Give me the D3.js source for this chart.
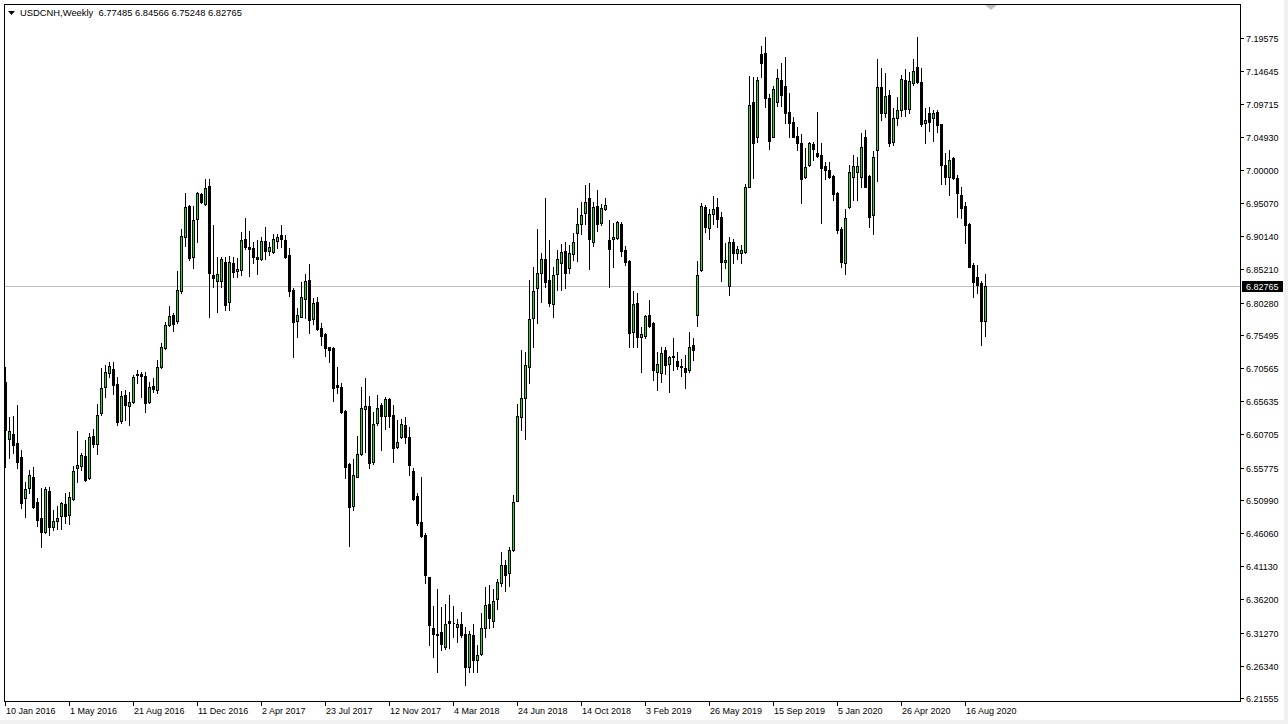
<!DOCTYPE html>
<html><head><meta charset="utf-8">
<script src="https://cdn.jsdelivr.net/npm/d3@7"></script>
<style>
html,body{margin:0;padding:0;background:#fff;overflow:hidden;}
svg{display:block;}
text{font-family:"Liberation Sans",Arial,sans-serif;font-size:9px;fill:#000;}
</style></head><body>
<svg id="c" width="1288" height="724"></svg>
<script>
const symbolTitle = "USDCNH,Weekly";
const lastQuote = ["6.77485", "6.84566", "6.75248", "6.82765"];
const currentPrice = 6.82765;

const opens = [6.6853,6.5998,6.6076,6.5938,6.5739,6.5121,6.5270,6.5442,6.5066,6.4824,
6.4616,6.5230,6.4691,6.4789,6.4863,6.5037,6.4869,6.5106,6.5567,6.5606,
6.5750,6.5418,6.6047,6.5923,6.6384,6.6770,6.6987,6.7042,6.6819,6.6269,
6.6651,6.6497,6.6547,6.6967,6.6967,6.6938,6.6547,6.6789,6.6730,6.7076,
6.7349,6.7695,6.7839,6.7759,6.8199,6.9007,6.9463,6.8710,6.9265,6.9641,
6.9492,6.9760,6.8438,6.8353,6.8353,6.8631,6.8041,6.8612,6.8502,6.8508,
6.8968,6.8858,6.8834,6.8710,6.8676,6.8947,6.8799,6.8784,6.8947,6.9028,
6.8958,6.8735,6.8215,6.7759,6.7818,6.8077,6.8363,6.7784,6.8037,6.7655,
6.7561,6.7373,6.7349,6.6804,6.6779,6.6422,6.5631,6.5007,6.5442,6.5779,
6.6452,6.6492,6.5661,6.6235,6.6507,6.6344,6.6592,6.6358,6.5879,6.6027,
6.6210,6.6027,6.5531,6.5156,6.4774,6.4576,6.3957,6.3191,6.3106,6.3140,
6.2917,6.3303,6.3274,6.3215,6.3254,6.3106,6.2620,6.3087,6.2720,6.2809,
6.3191,6.3551,6.3303,6.3621,6.3859,6.4131,6.4008,6.4354,6.5086,6.6324,
6.6606,6.7067,6.7795,6.8240,6.8463,6.8671,6.8363,6.8003,6.8453,6.8620,
6.8799,6.8537,6.8750,6.9057,6.9195,6.9354,6.9577,6.8928,6.9463,6.9206,
6.9414,6.8958,6.8968,6.8983,6.9195,6.8809,6.8650,6.7596,6.8017,6.7522,
6.7532,6.7839,6.7720,6.7002,6.6987,6.7324,6.7112,6.7216,6.7161,6.7086,
6.7052,6.7027,6.7398,6.7844,6.8512,6.9443,6.9132,6.9344,6.9443,6.9295,
6.8626,6.8275,6.8932,6.8760,6.8760,6.8784,6.9749,7.1012,7.0483,7.1720,
7.1739,7.1062,7.0492,7.1012,7.1340,7.1249,7.0863,7.0715,7.0502,7.0403,
6.9889,7.0071,7.0384,7.0254,7.0220,7.0057,6.9997,6.9908,6.9660,6.9116,
6.8612,6.9443,6.9898,6.9972,6.9889,7.0483,6.9908,6.9329,7.0294,7.1225,
7.0848,7.1111,7.0418,7.0765,7.0888,7.1334,7.0899,7.1285,7.1523,7.1309,
7.0699,7.0839,7.0765,7.0863,7.0680,7.0071,6.9898,7.0180,6.9874,6.9626,
6.9463,6.9195,6.8586,6.8412,6.8314,6.77485];

const highs = [6.7076,6.6333,6.6344,6.6507,6.5839,6.5368,6.5542,6.5591,6.5121,6.5274,
6.5294,6.5294,6.4947,6.5007,6.5071,6.5200,6.5219,6.5601,6.6121,6.5798,
6.5987,6.6096,6.6146,6.6522,6.7061,6.7101,6.7150,6.7150,6.6927,6.6715,
6.6730,6.6700,6.6953,6.7027,6.7002,6.7002,6.6853,6.6904,6.7175,6.7423,
6.7744,6.7977,6.7869,6.8497,6.9116,6.9660,6.9482,6.9463,6.9675,6.9660,
6.9859,6.9859,6.9180,6.8701,6.8701,6.8701,6.8720,6.8701,6.8686,6.9077,
6.9284,6.9091,6.8932,6.8958,6.8998,6.9146,6.8932,6.9047,6.9047,6.9180,
6.9032,6.8834,6.8240,6.7943,6.8338,6.8448,6.8601,6.8092,6.8107,6.7720,
6.7581,6.7373,6.7373,6.7076,6.6829,6.6433,6.5650,6.5701,6.6047,6.6779,
6.6904,6.6641,6.6407,6.6656,6.6541,6.6630,6.6606,6.6507,6.6284,6.6295,
6.6324,6.6176,6.5567,6.5196,6.5442,6.4601,6.3957,6.3522,6.3770,6.3511,
6.3551,6.3685,6.3522,6.3324,6.3437,6.3215,6.3155,6.3254,6.2943,6.3413,
6.3800,6.3834,6.3770,6.3918,6.4328,6.4205,6.4403,6.5170,6.6522,6.7324,
6.7299,6.8363,6.8552,6.9116,6.8760,6.9577,6.8958,6.8552,6.8809,6.8898,
6.8932,6.8884,6.9057,6.9428,6.9526,6.9775,6.9800,6.9526,6.9700,6.9492,
6.9577,6.9255,6.9206,6.9244,6.9229,6.8868,6.8661,6.8199,6.8175,6.7670,
6.7844,6.8066,6.7744,6.7299,6.7364,6.7364,6.7235,6.7498,6.7299,6.7186,
6.7250,6.7596,6.7502,6.8650,6.9503,6.9475,6.9414,6.9611,6.9577,6.9380,
6.8909,6.9007,6.8968,6.8868,6.8884,6.9789,7.1393,7.1383,7.1383,7.1839,
7.1968,7.1126,7.1249,7.1493,7.1591,7.1680,7.1137,7.0790,7.0632,7.0532,
7.0320,7.0418,7.0418,7.0863,7.0394,7.0120,7.0120,6.9923,6.9675,6.9146,
6.9414,7.0071,7.0220,7.0195,7.0551,7.0591,6.9923,7.0284,7.1641,7.1508,
7.1433,7.1185,7.0914,7.1086,7.1408,7.1493,7.1457,7.1641,7.1968,7.1508,
7.0914,7.0928,7.0888,7.0888,7.0680,7.0245,7.0294,7.0195,6.9923,6.9749,
6.9526,6.9206,6.8612,6.8586,6.8353,6.84566];

const lows = [6.5591,6.5715,6.5794,6.5567,6.4973,6.4848,6.5196,6.4973,6.4710,6.4394,
6.4601,6.4576,6.4650,6.4661,6.4661,6.4759,6.4735,6.5096,6.5368,6.5542,
6.5383,6.5403,6.5888,6.5775,6.6358,6.6630,6.6918,6.6670,6.6210,6.6240,
6.6284,6.6210,6.6532,6.6829,6.6630,6.6407,6.6532,6.6705,6.6690,6.7052,
6.7334,6.7680,6.7610,6.7729,6.8175,6.8868,6.8661,6.8537,6.8932,6.9512,
6.9475,6.7810,6.8264,6.7893,6.8264,6.7918,6.7918,6.8404,6.8413,6.8438,
6.8831,6.8423,6.8612,6.8453,6.8661,6.8671,6.8735,6.8760,6.8834,6.8858,
6.8686,6.8126,6.7225,6.7522,6.7810,6.7795,6.7581,6.7710,6.7621,6.7398,
6.7235,6.7150,6.6571,6.6690,6.6393,6.5418,6.4413,6.4947,6.5433,6.5764,
6.5813,6.5567,6.5633,6.6210,6.5839,6.6146,6.6185,6.5665,6.5864,6.6012,
6.5938,6.5468,6.5096,6.4725,6.4551,6.3868,6.2943,6.2760,6.2546,6.2868,
6.2879,6.2893,6.3057,6.2992,6.3066,6.2349,6.2546,6.2546,6.2546,6.2794,
6.3057,6.3191,6.3215,6.3473,6.3819,6.3749,6.3819,6.4343,6.5086,6.6136,
6.5998,6.6829,6.7373,6.7729,6.8041,6.8264,6.7977,6.7810,6.8215,6.8215,
6.8240,6.8463,6.8661,6.8650,6.9047,6.9195,6.8522,6.8868,6.9098,6.9180,
6.9403,6.8255,6.8561,6.8968,6.8720,6.8586,6.7373,6.7373,6.7364,6.7002,
6.7498,6.7670,6.6878,6.6730,6.6853,6.6967,6.6705,6.7027,6.7037,6.6938,
6.6755,6.7002,6.7175,6.7680,6.8502,6.9081,6.8968,6.9195,6.9155,6.8353,
6.8537,6.8141,6.8612,6.8671,6.8612,6.8769,6.9740,6.9874,7.0418,7.1383,
7.0937,7.0305,7.0483,7.0948,7.0948,7.0690,7.0483,7.0483,7.0294,6.9512,
6.9874,7.0057,7.0148,7.0186,6.9206,6.9859,6.9874,6.9552,6.9066,6.8561,
6.8453,6.9428,6.9552,6.9552,6.9749,6.9740,6.9155,6.9047,6.9838,7.0740,
7.0780,7.0354,7.0369,7.0666,7.0799,7.0799,7.0848,7.1260,7.1294,7.0651,
7.0394,7.0581,7.0432,7.0566,6.9789,6.9789,6.9626,6.9859,6.9304,6.9280,
6.8917,6.8552,6.8115,6.8166,6.7398,6.75248];

const closes = [6.6136,6.6121,6.5913,6.5665,6.5056,6.5255,6.5463,6.4997,6.4799,6.4625,
6.5255,6.4700,6.4780,6.4833,6.5056,6.4863,6.5145,6.5527,6.5616,6.5764,
6.5393,6.6036,6.5928,6.6358,6.6755,6.7002,6.7086,6.6804,6.6259,6.6641,
6.6507,6.6547,6.6918,6.6953,6.6942,6.6532,6.6770,6.6745,6.7067,6.7364,
6.7691,6.7829,6.7710,6.8215,6.9017,6.9443,6.8686,6.9255,6.9651,6.9526,
6.9725,6.8472,6.8398,6.8453,6.8671,6.7992,6.8631,6.8487,6.8532,6.8958,
6.8849,6.8828,6.8710,6.8680,6.8947,6.8799,6.8858,6.8968,6.8998,6.8968,
6.8710,6.8205,6.7744,6.7844,6.8107,6.8349,6.7770,6.8026,6.7631,6.7536,
6.7349,6.7324,6.6755,6.6779,6.6407,6.5591,6.4997,6.5468,6.5779,6.6458,
6.6492,6.5650,6.6225,6.6458,6.6344,6.6592,6.6344,6.5864,6.5962,6.6225,
6.6036,6.5616,6.5106,6.4750,6.4561,6.3982,6.3240,6.3106,6.3096,6.2957,
6.3254,6.3265,6.3270,6.3254,6.3091,6.2612,6.3106,6.2720,6.2794,6.3191,
6.3537,6.3339,6.3600,6.3883,6.4131,6.3982,6.4354,6.5071,6.6344,6.6606,
6.7101,6.7780,6.8199,6.8463,6.8671,6.8338,6.8026,6.8438,6.8671,6.8784,
6.8463,6.8760,6.8932,6.9195,6.9329,6.9518,6.8968,6.9452,6.9191,6.9428,
6.9475,6.8828,6.8998,6.9220,6.8799,6.8635,6.7581,6.8003,6.7513,6.7561,
6.7829,6.7685,6.7027,6.7116,6.7284,6.7101,6.7216,6.7235,6.7086,6.7067,
6.7002,6.7373,6.7324,6.8438,6.9463,6.9146,6.9344,6.9414,6.9265,6.8635,
6.8661,6.8932,6.8769,6.8820,6.8809,6.9740,7.0963,7.0403,7.1334,7.1591,
7.1062,7.0432,7.1196,7.1359,7.1113,7.0848,7.0699,7.0483,7.0394,6.9859,
7.0037,7.0403,7.0305,7.0205,7.0023,6.9997,6.9898,6.9641,6.9106,6.8635,
6.9280,6.9972,7.0057,7.0057,7.0334,6.9749,6.9295,7.0195,7.1234,7.0848,
7.1096,7.0403,7.0765,7.0888,7.1344,7.0899,7.1323,7.1472,7.1309,7.0680,
7.0740,7.0715,7.0839,7.0666,7.0071,6.9898,7.0146,6.9874,6.9651,6.9428,
6.9180,6.8561,6.8338,6.8289,6.7759,6.82765];

const xTickLabels = ["10 Jan 2016","1 May 2016","21 Aug 2016","11 Dec 2016","2 Apr 2017",
"23 Jul 2017","12 Nov 2017","4 Mar 2018","24 Jun 2018","14 Oct 2018","3 Feb 2019",
"26 May 2019","15 Sep 2019","5 Jan 2020","26 Apr 2020","16 Aug 2020"];
const xTickEvery = 16;
const yTickLabels = ["7.19575","7.14645","7.09715","7.04930","7.00000","6.95070","6.90140",
"6.85210","6.80280","6.75495","6.70565","6.65635","6.60705","6.55775","6.50990","6.46060",
"6.41130","6.36200","6.31270","6.26340","6.21555"];

const bullColor = "#22dd22";
const bearColor = "#000000";

const svg = d3.select("#c");
const plot = {left: 4, top: 4, right: 1240, bottom: 701};

// frame background
svg.append("rect").attr("x",0).attr("y",0).attr("width",1288).attr("height",724).attr("fill","#f0f0f0");
svg.append("rect").attr("x",0).attr("y",0).attr("width",1284).attr("height",720).attr("fill","#ffffff");

const n = opens.length;
const x = d3.scaleLinear().domain([0, n - 1]).range([5, 985]);
const y = d3.scaleLinear().domain([6.21555, 7.19575]).range([698, 38]);

const g = svg.append("g").attr("shape-rendering","crispEdges");

// current price line
g.append("line")
  .attr("x1", plot.left).attr("x2", plot.right)
  .attr("y1", Math.round(y(currentPrice)) + 0.5).attr("y2", Math.round(y(currentPrice)) + 0.5)
  .attr("stroke","#c0c0c0").attr("stroke-width",1);

// candles
const idx = d3.range(n);
const cg = g.append("g");
cg.selectAll("line.wick").data(idx).join("line")
  .attr("class","wick")
  .attr("x1", i => Math.round(x(i)) + 0.5).attr("x2", i => Math.round(x(i)) + 0.5)
  .attr("y1", i => Math.round(y(highs[i]))).attr("y2", i => Math.round(y(lows[i])) + 1)
  .attr("stroke","#000").attr("stroke-width",1);

cg.selectAll("path.body").data(idx).join("path")
  .attr("class","body")
  .attr("d", i => {
    const cx = Math.round(x(i));
    const top = Math.round(y(Math.max(opens[i], closes[i])));
    const bot = Math.round(y(Math.min(opens[i], closes[i])));
    const x0 = cx - 0.5, y0 = top + 0.5, h = Math.max(bot - top, 0);
    return `M${x0},${y0}h2v${h}h-2Z`;
  })
  .attr("fill", i => closes[i] >= opens[i] ? bullColor : bearColor)
  .attr("stroke","#000").attr("stroke-width",1);

// plot border
g.append("rect")
  .attr("x", plot.left + 0.5).attr("y", plot.top + 0.5)
  .attr("width", plot.right - plot.left).attr("height", plot.bottom - plot.top)
  .attr("fill","none").attr("stroke","#000").attr("stroke-width",1);

// right axis
const ya = svg.append("g");
yTickLabels.forEach(t => {
  const yy = Math.round(y(+t));
  ya.append("line").attr("x1", plot.right).attr("x2", plot.right + 4)
    .attr("y1", yy + 0.5).attr("y2", yy + 0.5).attr("stroke","#000").attr("shape-rendering","crispEdges");
  ya.append("text").attr("x", plot.right + 6).attr("y", yy + 4).text(t);
});

// current price label
const cpY = Math.round(y(currentPrice));
svg.append("rect").attr("x", plot.right + 2).attr("y", cpY - 5).attr("width", 41).attr("height", 11).attr("fill","#000");
svg.append("text").attr("x", plot.right + 6).attr("y", cpY + 4).style("fill","#fff").text(currentPrice.toFixed(5));

// bottom axis
const xa = svg.append("g");
xTickLabels.forEach((t, k) => {
  const xx = Math.round(x(k * xTickEvery));
  xa.append("line").attr("x1", xx + 0.5).attr("x2", xx + 0.5)
    .attr("y1", plot.bottom).attr("y2", plot.bottom + 5).attr("stroke","#000").attr("shape-rendering","crispEdges");
  xa.append("text").attr("x", xx + 1).attr("y", 714).text(t);
});

// title
svg.append("path").attr("d","M8,11L15,11L11.5,15Z").attr("fill","#000");
svg.append("text").attr("x", 20).attr("y", 16)
  .style("font-size","9.4px").style("white-space","pre")
  .text(symbolTitle + "  " + lastQuote.join(" "));

// chart shift marker
svg.append("path").attr("d","M985,5L997,5L991,10Z").attr("fill","#c0c0c0");
</script>
</body></html>
